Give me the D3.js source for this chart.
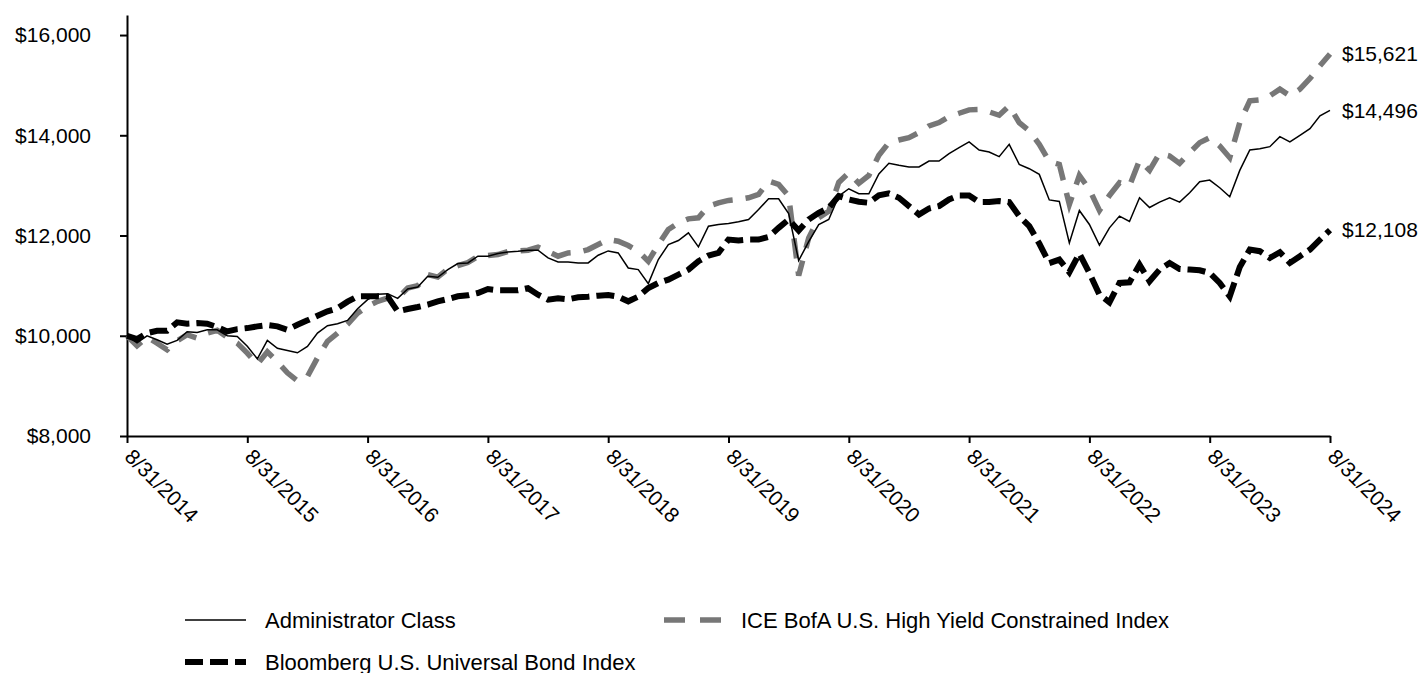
<!DOCTYPE html>
<html>
<head>
<meta charset="utf-8">
<script src="https://cdn.jsdelivr.net/npm/d3@7"></script>
<style>
  html, body { margin: 0; padding: 0; background: #fff; }
  svg { display: block; }
  text { font-family: Arial, "Liberation Sans", sans-serif; fill: #000; }
</style>
</head>
<body>
<svg id="chart" width="1423" height="673"></svg>
<script>
// ---- data (monthly, 8/31/2014 .. 8/31/2024) ----
const xTickLabels = ["8/31/2014","8/31/2015","8/31/2016","8/31/2017","8/31/2018","8/31/2019","8/31/2020","8/31/2021","8/31/2022","8/31/2023","8/31/2024"];
const yTickValues = [8000, 10000, 12000, 14000, 16000];
const seriesNames = ["Administrator Class", "ICE BofA U.S. High Yield Constrained Index", "Bloomberg U.S. Universal Bond Index"];
const endLabels = ["$14,496", "$15,621", "$12,108"];

const adminClass = [
10000, 9860, 10000, 9920, 9833, 9907, 10080, 10067, 10120, 10120, 10000, 9987, 9790, 9540, 9907, 9750, 9707, 9660, 9787, 10053, 10200,
10240, 10307, 10540, 10720, 10827, 10840, 10747, 10933, 10973, 11187, 11167, 11320, 11440, 11453, 11587, 11587, 11640, 11673, 11687, 11707,
11707, 11553, 11473, 11473, 11453, 11453, 11607, 11693, 11653, 11353, 11320, 11040, 11520, 11820, 11900, 12053, 11773, 12187, 12220, 12240,
12273, 12320, 12520, 12733, 12733, 12440, 11500, 11880, 12220, 12320, 12787, 12933, 12833, 12833, 13230, 13440, 13400, 13367, 13367, 13487,
13487, 13633, 13753, 13867, 13707, 13667, 13573, 13820, 13420, 13333, 13220, 12710, 12680, 11853, 12500, 12220, 11810, 12153, 12387, 12280,
12753, 12560, 12667, 12753, 12667, 12853, 13073, 13107, 12953, 12773, 13300, 13707, 13733, 13773, 13973, 13867, 14000, 14133, 14387, 14496];

const iceHighYield = [
10000, 9800, 9973, 9850, 9720, 9900, 10020, 9953, 10053, 10110, 9973, 9853, 9653, 9430, 9680, 9480, 9260, 9100, 9187, 9560, 9890,
10050, 10230, 10450, 10587, 10687, 10753, 10747, 10953, 11000, 11220, 11170, 11330, 11400, 11460, 11580, 11600, 11620, 11680, 11690, 11707,
11767, 11680, 11587, 11653, 11667, 11720, 11820, 11920, 11887, 11800, 11687, 11487, 11820, 12120, 12253, 12333, 12353, 12587, 12653, 12700,
12720, 12753, 12820, 13087, 13020, 12787, 11200, 11953, 12353, 12487, 13060, 13250, 13040, 13200, 13600, 13853, 13907, 13953, 14053, 14187,
14253, 14373, 14440, 14507, 14513, 14467, 14400, 14587, 14253, 14087, 13820, 13480, 13420, 12620, 13200, 12920, 12500, 12800, 13053, 12990,
13500, 13300, 13640, 13587, 13440, 13653, 13853, 13953, 13787, 13553, 14253, 14687, 14707, 14787, 14920, 14787, 14920, 15133, 15387, 15621];

const bloombergUniversal = [
10000, 9933, 10053, 10100, 10100, 10267, 10240, 10253, 10240, 10173, 10087, 10133, 10153, 10187, 10213, 10187, 10120, 10220, 10307, 10400, 10487,
10550, 10680, 10787, 10790, 10790, 10780, 10487, 10533, 10573, 10620, 10687, 10733, 10787, 10807, 10853, 10933, 10907, 10907, 10907, 10950,
10820, 10720, 10747, 10727, 10767, 10780, 10800, 10813, 10780, 10687, 10780, 10953, 11053, 11120, 11220, 11320, 11487, 11600, 11653, 11920,
11900, 11920, 11920, 11973, 12153, 12320, 12100, 12320, 12453, 12553, 12787, 12720, 12673, 12653, 12800, 12840, 12753, 12587, 12420, 12540,
12587, 12720, 12800, 12800, 12667, 12667, 12687, 12667, 12387, 12187, 11840, 11450, 11520, 11267, 11640, 11253, 10820, 10667, 11053, 11067,
11420, 11087, 11320, 11453, 11333, 11320, 11307, 11253, 11053, 10787, 11370, 11720, 11687, 11553, 11667, 11453, 11587, 11720, 11920, 12108];

// ---- layout ----
const svg = d3.select("#chart");
const FONT = 21;
const LEGEND_FONT = 22;
const x = d3.scaleLinear().domain([0, 120]).range([127, 1330]);
const y = d3.scaleLinear().domain([8000, 16400]).range([436, 15]);

const styles = [
  { data: adminClass, color: "#000", width: 1.5, dash: null },
  { data: iceHighYield, color: "#777", width: 5.5, dash: "20,13" },
  { data: bloombergUniversal, color: "#000", width: 6, dash: "18,7" }
];

// axes
const yAxis = d3.axisLeft(y).tickValues(yTickValues).tickSize(7).tickSizeOuter(0).tickPadding(29)
  .tickFormat(d => "$" + d3.format(",")(d));
const gy = svg.append("g").attr("transform", "translate(127,0)").call(yAxis);
gy.selectAll("text").attr("font-size", FONT).attr("font-family", "Arial, 'Liberation Sans', sans-serif");
gy.selectAll("line, path").attr("stroke", "#000").attr("stroke-width", 2);

const xTicks = xTickLabels.map((_, i) => i * 12);
const xAxis = d3.axisBottom(x).tickValues(xTicks).tickSize(7).tickSizeOuter(0)
  .tickFormat((d, i) => xTickLabels[i]);
const gx = svg.append("g").attr("transform", "translate(0,436)").call(xAxis);
gx.selectAll("line, path").attr("stroke", "#000").attr("stroke-width", 2);
gx.selectAll("text")
  .attr("font-size", FONT)
  .attr("font-family", "Arial, 'Liberation Sans', sans-serif")
  .attr("text-anchor", "start")
  .attr("dy", null)
  .attr("y", 0)
  .attr("x", 0)
  .attr("transform", "translate(-4,22) rotate(45)");

// lines
const line = d3.line().x((d, i) => x(i)).y(d => y(d));
// draw order: ICE, Bloomberg, Admin on top
[1, 2, 0].forEach(k => {
  const s = styles[k];
  svg.append("path")
    .datum(s.data)
    .attr("d", line)
    .attr("fill", "none")
    .attr("stroke", s.color)
    .attr("stroke-width", s.width)
    .attr("stroke-dasharray", s.dash)
    .attr("stroke-linejoin", "miter");
});

// end labels
styles.forEach((s, k) => {
  const last = s.data.length - 1;
  svg.append("text")
    .attr("x", x(last) + 12)
    .attr("y", y(s.data[last]))
    .attr("dy", "0.35em")
    .attr("font-size", FONT)
    .text(endLabels[k]);
});

// legend
const legendPos = [
  { lx: 185, lw: 61, tx: 265, y: 620, dash: null },
  { lx: 664, lw: 57, tx: 741, y: 620, dash: "21,15" },
  { lx: 185, lw: 61, tx: 265, y: 662, dash: "18,7" }
];
seriesNames.forEach((name, k) => {
  const p = legendPos[k], s = styles[k];
  svg.append("line")
    .attr("x1", p.lx).attr("x2", p.lx + p.lw)
    .attr("y1", p.y).attr("y2", p.y)
    .attr("stroke", s.color)
    .attr("stroke-width", s.width)
    .attr("stroke-dasharray", p.dash);
  svg.append("text")
    .attr("x", p.tx).attr("y", p.y)
    .attr("dy", "0.35em")
    .attr("font-size", LEGEND_FONT)
    .text(name);
});
</script>
</body>
</html>
